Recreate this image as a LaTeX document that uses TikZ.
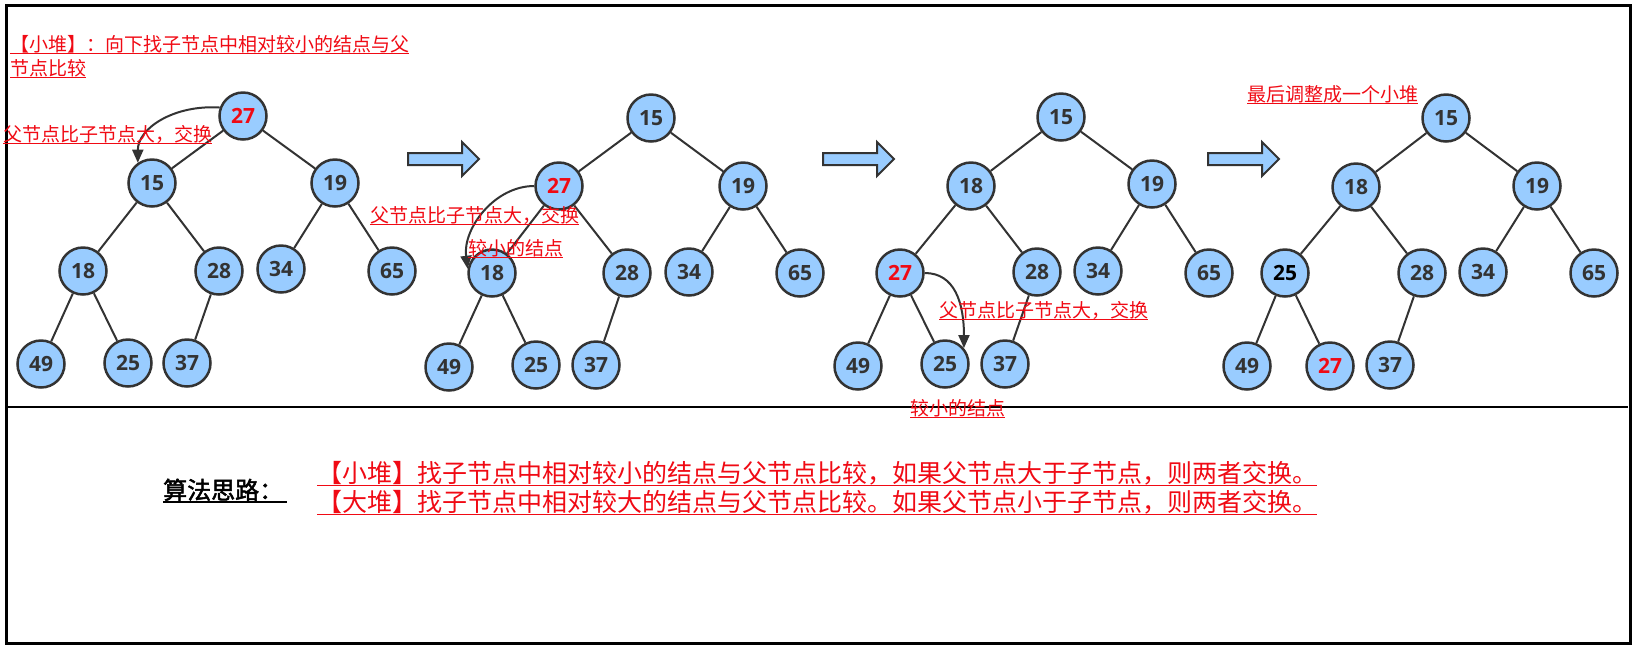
\documentclass[tikz,border=0pt]{standalone}
\usepackage{fontspec}
\setmainfont{Open Sans}
\newfontfamily\cjk{Noto Sans CJK SC}[AutoFakeBold=2]
\usetikzlibrary{arrows.meta}
\definecolor{nfill}{RGB}{153,204,255}
\definecolor{nline}{RGB}{51,51,51}
\definecolor{myred}{RGB}{240,10,20}
\newcommand\myul[1]{\setbox0=\hbox{#1}\rlap{\rule[-0.15em]{\wd0}{1.2pt}}\box0}
\tikzset{
  hn/.style={circle, draw=nline, fill=nfill, line width=2.5pt, minimum size=47pt, inner sep=0pt, text=nline, font=\bfseries\fontsize{21}{21}\selectfont},
  hot/.style={text=myred},
  blk2/.style={text=black},
  edge/.style={draw=nline, line width=2pt},
  swaparrow/.style={draw=nline, line width=2pt, -{Triangle[length=13pt,width=11pt]}},
  note/.style={anchor=base west, inner sep=0pt, text=myred, font=\cjk\fontsize{19}{19}\selectfont},
  bignote/.style={anchor=base west, inner sep=0pt, text=myred, font=\cjk\fontsize{25}{25}\selectfont},
  blockarrow/.style={draw=nline, fill=nfill, line width=2pt, line join=miter},
}
\begin{document}
\begin{tikzpicture}[x=1pt,y=-1pt]
\useasboundingbox (0,0) rectangle (1637,649);
% frame
\draw[line width=3pt] (6.5,5.5) rectangle (1630,643.5);
\draw[line width=1.2pt] (8,407) -- (1628,407);

% tree 1
\node[hn,hot] (t1a) at (243,116) {27};
\node[hn] (t1b) at (152,183) {15};
\node[hn] (t1c) at (335,183) {19};
\node[hn] (t1d) at (83,271) {18};
\node[hn] (t1e) at (219,271) {28};
\node[hn] (t1f) at (281,269) {34};
\node[hn] (t1g) at (392,271) {65};
\node[hn] (t1h) at (41,364) {49};
\node[hn] (t1i) at (128,363) {25};
\node[hn] (t1j) at (187,363) {37};

% tree 2
\node[hn] (t2a) at (651,118) {15};
\node[hn,hot] (t2b) at (559,186) {27};
\node[hn] (t2c) at (743,186) {19};
\node[hn] (t2d) at (492,273) {18};
\node[hn] (t2e) at (627,273) {28};
\node[hn] (t2f) at (689,272) {34};
\node[hn] (t2g) at (800,273) {65};
\node[hn] (t2h) at (449,367) {49};
\node[hn] (t2i) at (536,365) {25};
\node[hn] (t2j) at (596,365) {37};

% tree 3
\node[hn] (t3a) at (1061,117) {15};
\node[hn] (t3b) at (971,186) {18};
\node[hn] (t3c) at (1152,184) {19};
\node[hn,hot] (t3d) at (900,273) {27};
\node[hn] (t3e) at (1037,272) {28};
\node[hn] (t3f) at (1098,271) {34};
\node[hn] (t3g) at (1209,273) {65};
\node[hn] (t3h) at (858,366) {49};
\node[hn] (t3i) at (945,364) {25};
\node[hn] (t3j) at (1005,364) {37};

% tree 4
\node[hn] (t4a) at (1446,118) {15};
\node[hn] (t4b) at (1356,187) {18};
\node[hn] (t4c) at (1537,186) {19};
\node[hn,blk2] (t4d) at (1285,273) {25};
\node[hn] (t4e) at (1422,273) {28};
\node[hn] (t4f) at (1483,272) {34};
\node[hn] (t4g) at (1594,273) {65};
\node[hn] (t4h) at (1247,366) {49};
\node[hn,hot] (t4i) at (1330,366) {27};
\node[hn] (t4j) at (1390,365) {37};

\foreach \t in {t1,t2,t3,t4}
  \foreach \p/\c in {a/b,a/c,b/d,b/e,c/f,c/g,d/h,d/i,e/j}
    \draw[edge] (\t\p) -- (\t\c);

% block arrows
\foreach \dx in {0,415,800}
  \draw[blockarrow] (408+\dx,153) -- (462+\dx,153) -- (462+\dx,142) -- (479+\dx,159)
     -- (462+\dx,176) -- (462+\dx,165) -- (408+\dx,165) -- cycle;

% swap arrows
\draw[swaparrow] (t1a.160) .. controls +(-45,-3) and +(0,-35) .. (t1b.125);
\draw[swaparrow] (t2b.west) .. controls +(-40,0) and +(-5,-40) .. (t2d.170);
\draw[swaparrow] (t3d.east) .. controls +(30,0) and +(0,-45) .. (t3i.40);

% notes
\node[note] (title1) at (10,51) {\myul{【小堆】：向下找子节点中相对较小的结点与父}};
\node[note] (title2) at (10,75) {\myul{节点比较}};
\node[note] (n1) at (3,141) {\myul{父节点比子节点大，交换}};
\node[note] (n2) at (370,222) {\myul{父节点比子节点大，交换}};
\node[note] (n2b) at (468,255) {\myul{较小的结点}};
\node[note] (n3) at (939,317) {\myul{父节点比子节点大，交换}};
\node[note] (n3b) at (910,415) {\myul{较小的结点}};
\node[note] (n4) at (1247,101) {\myul{最后调整成一个小堆}};

% bottom
\node[anchor=base west, inner sep=0pt, font=\cjk\bfseries\fontsize{24}{24}\selectfont] (alg) at (163,499) {算法思路：};
\draw[line width=1.5pt] ([yshift=-3pt]alg.base west) -- ([xshift=4pt,yshift=-3pt]alg.base east);
\node[bignote] (l1) at (317,482.5) {\myul{【小堆】找子节点中相对较小的结点与父节点比较，如果父节点大于子节点，则两者交换。}};
\node[bignote] (l2) at (317,511) {\myul{【大堆】找子节点中相对较大的结点与父节点比较。如果父节点小于子节点，则两者交换。}};
\end{tikzpicture}
\end{document}
